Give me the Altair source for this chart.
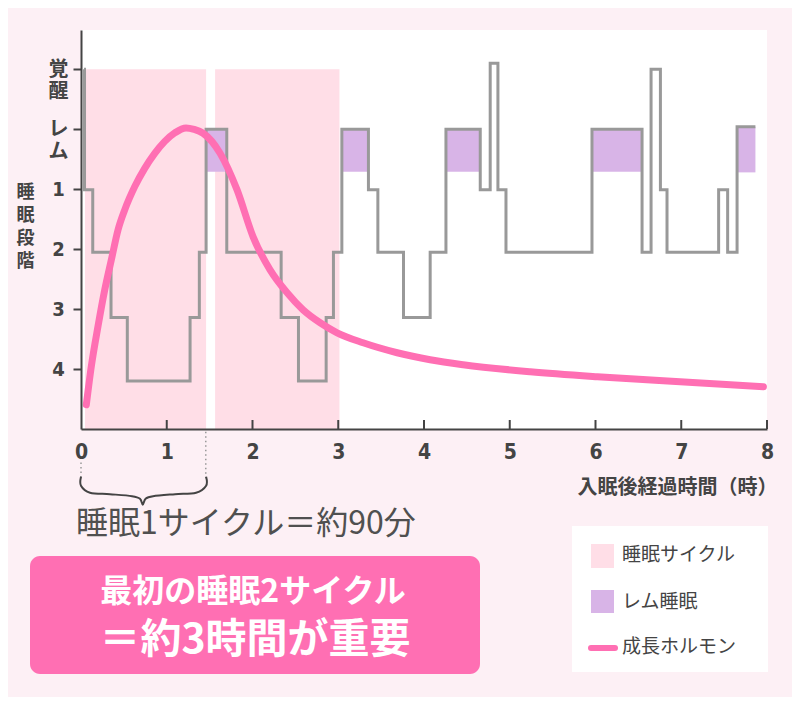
import altair as alt
import pandas as pd

# ---------------- data ----------------
x_ticks = [0, 1, 2, 3, 4, 5, 6, 7, 8]
y_tick_values = [0, 1, 2, 3, 4, 5]
y_tick_labels = ["覚醒", "レム", "1", "2", "3", "4"]

# sleep cycles (hours)
cycle_start = [0.047, 1.564]
cycle_end = [1.459, 3.014]
cycle_top = [0.0, 0.0]
cycle_bottom = [6.0, 6.0]

# REM sleep blocks
rem_start = [1.467, 3.042, 4.256, 5.959, 7.651]
rem_end = [1.700, 3.352, 4.656, 6.543, 7.865]
rem_top = [1.0, 1.0, 1.0, 1.0, 0.96]
rem_bottom = [1.71, 1.71, 1.71, 1.71, 1.72]

# hypnogram (step after)
stage_hours = [0.035, 0.041, 0.137, 0.350, 0.540, 1.272, 1.380, 1.459, 1.700,
               2.334, 2.536, 2.859, 2.944, 3.042, 3.352, 3.462, 3.761, 4.072,
               4.256, 4.656, 4.772, 4.862, 4.956, 5.959, 6.543, 6.648, 6.757,
               6.834, 7.436, 7.541, 7.651, 7.865]
stage_levels = [0.0, 2.01, 3.05, 4.14, 5.2, 4.14, 3.05, 1.0, 3.05,
                4.14, 5.2, 4.14, 3.05, 1.0, 2.01, 3.05, 4.14, 3.05,
                1.0, 2.01, -0.1, 2.01, 3.05, 1.0, 3.05, 0.0, 2.01,
                3.05, 2.01, 3.05, 0.96, 0.96]

# growth hormone curve
gh_hours = [0.062, 0.120, 0.198, 0.277, 0.354, 0.432, 0.510, 0.627, 0.743,
            0.860, 0.977, 1.093, 1.225, 1.319, 1.424, 1.622, 1.820, 2.007,
            2.205, 2.404, 2.590, 2.789, 2.987, 3.290, 3.687, 4.072, 4.457,
            5.239, 6.021, 6.791, 7.573, 7.958]
gh_levels = [5.595, 4.957, 4.290, 3.678, 3.178, 2.678, 2.345, 1.957, 1.653,
             1.403, 1.203, 1.062, 0.978, 1.003, 1.067, 1.400, 2.012, 2.795,
             3.345, 3.728, 4.012, 4.228, 4.395, 4.562, 4.728, 4.845, 4.928,
             5.045, 5.128, 5.195, 5.262, 5.295]

# annotation: one cycle = 90 min (dotted guides + brace)
guide_x = [0.0, 1.455]
guide_y = [6.56, 6.045]
guide_y2 = [6.80, 6.845]
brace_x = [0.0, 0.0, 0.105, 0.338, 0.595, 0.688, 0.720, 0.753, 0.840, 1.097, 1.342, 1.459, 1.459]
brace_y = [6.795, 6.945, 7.062, 7.087, 7.12, 7.162, 7.262, 7.162, 7.12, 7.087, 7.062, 6.945, 6.795]

tick_hours = [1, 2, 3, 4, 5, 6, 7, 8]

legend_labels = ["睡眠サイクル", "レム睡眠", "成長ホルモン"]
note_text = "睡眠1サイクル＝約90分"
box_line1 = "最初の睡眠2サイクル"
box_line2 = "＝約3時間が重要"
x_title = "入眠後経過時間（時）"
y_title = "睡眠段階"

# ---------------- styling ----------------
PINK_CYCLE = "#FFDEE7"
PURPLE = "#D8B4E7"
GREY = "#999999"
HOT = "#FF6FB3"
TXT = "#444444"
BG = "#FDF0F5"
NUM_FONT = "Liberation Sans Narrow, DejaVu Sans Condensed, Roboto, Noto Sans CJK JP"
JP_FONT = "Noto Sans CJK JP"

W, H = 686, 399

def lab_expr():
    parts = []
    for v, lab in zip(y_tick_values, y_tick_labels):
        if len(lab) > 1:
            arr = "[" + ",".join("'" + c + "'" for c in lab) + "]"
        else:
            arr = "'" + lab + "'"
        parts.append((v, arr))
    expr = "''"
    for v, arr in reversed(parts):
        expr = f"datum.value == {v} ? {arr} : ({expr})"
    return expr

xs = alt.Scale(domain=[0, 8], nice=False, zero=False)
ys = alt.Scale(domain=[-0.655, 6], reverse=True, nice=False, zero=False)

x_axis = alt.Axis(values=x_ticks, format="d", ticks=False, tickSize=0, grid=False,
                  domainColor=TXT, domainWidth=2, labelFont=NUM_FONT,
                  labelFontSize=21, labelFontWeight="bold", labelColor=TXT,
                  labelPadding=12, labelBaseline="top", labelFlush=False,
                  title=x_title, titleFont=JP_FONT, titleFontSize=20,
                  titleFontWeight="bold", titleColor=TXT, titleAngle=0,
                  titleX=W + 10, titleY=58, titleAlign="right", titleBaseline="middle",
                  zindex=1)
y_axis = alt.Axis(values=y_tick_values, labelExpr=lab_expr(), grid=False,
                  domainColor=TXT, domainWidth=2, tickColor=TXT, tickWidth=2,
                  tickSize=8, labelFont=NUM_FONT, labelFontSize=20,
                  labelFontWeight="bold", labelColor=TXT, labelAlign="center",
                  labelBaseline="middle", labelPadding=15, labelLineHeight=22,
                  labelFlush=False,
                  title=list(y_title), titleFont=JP_FONT, titleFontSize=18,
                  titleFontWeight="bold", titleColor=TXT, titleAngle=0,
                  titleX=-56, titleY=153, titleAlign="center", titleBaseline="top",
                  titleLineHeight=23, zindex=1)

cycles_df = pd.DataFrame({"s": cycle_start, "e": cycle_end, "t": cycle_top, "b": cycle_bottom})
rem_df = pd.DataFrame({"s": rem_start, "e": rem_end, "t": rem_top, "b": rem_bottom})
stage_df = pd.DataFrame({"h": stage_hours, "lv": stage_levels})
gh_df = pd.DataFrame({"h": gh_hours, "lv": gh_levels})
guide_df = pd.DataFrame({"x": guide_x, "y": guide_y, "y2": guide_y2})
brace_df = pd.DataFrame({"x": brace_x, "y": brace_y, "i": list(range(len(brace_x)))})
tick_df = pd.DataFrame({"x": tick_hours, "y": [6.0] * len(tick_hours), "y2": [5.85] * len(tick_hours)})

cycles = alt.Chart(cycles_df).mark_rect(color=PINK_CYCLE).encode(
    x=alt.X("s:Q", scale=xs, axis=x_axis), x2="e:Q",
    y=alt.Y("t:Q", scale=ys, axis=y_axis), y2="b:Q")

rem = alt.Chart(rem_df).mark_rect(color=PURPLE).encode(
    x=alt.X("s:Q", scale=xs), x2="e:Q", y=alt.Y("t:Q", scale=ys), y2="b:Q")

stages = alt.Chart(stage_df).mark_line(interpolate="step-after", color=GREY,
                                       strokeWidth=3, strokeJoin="miter").encode(
    x=alt.X("h:Q", scale=xs), y=alt.Y("lv:Q", scale=ys))

gh = alt.Chart(gh_df).mark_line(interpolate="monotone", color=HOT, strokeWidth=7,
                                strokeCap="round").encode(
    x=alt.X("h:Q", scale=xs), y=alt.Y("lv:Q", scale=ys))

xticks = alt.Chart(tick_df).mark_rule(color=TXT, strokeWidth=2).encode(
    x=alt.X("x:Q", scale=xs), y=alt.Y("y:Q", scale=ys), y2="y2:Q")

guides = alt.Chart(guide_df).mark_rule(color=GREY, strokeWidth=1.5,
                                       strokeDash=[1.5, 3]).encode(
    x=alt.X("x:Q", scale=xs), y=alt.Y("y:Q", scale=ys), y2="y2:Q")

brace = alt.Chart(brace_df).mark_line(interpolate="cardinal", color="#444444",
                                      strokeWidth=2).encode(
    x=alt.X("x:Q", scale=xs), y=alt.Y("y:Q", scale=ys), order="i:Q")

def text_at(txt, x, y, size, color=TXT, weight="normal", align="left", font=JP_FONT):
    return alt.Chart(pd.DataFrame({"t": [txt]})).mark_text(
        align=align, baseline="middle", fontSize=size, fontWeight=weight,
        color=color, font=font).encode(text="t:N", x=alt.value(x), y=alt.value(y))

def box_at(x, x2, y, y2, color, radius=0):
    return alt.Chart(pd.DataFrame({"k": [0]})).mark_rect(
        color=color, cornerRadius=radius).encode(
        x=alt.value(x), x2=alt.value(x2), y=alt.value(y), y2=alt.value(y2))

note = text_at(note_text, -5, 494, 32, color="#505050")

pink_box = box_at(-51, 399, 526, 644, HOT, radius=10)
box_t1 = text_at(box_line1, 172, 562, 32, color="white", weight="bold", align="center")
box_t2 = text_at(box_line2, 174, 611, 41, color="white", weight="bold", align="center")

leg_bg = box_at(491, 687, 496, 642, "white")
leg_sw1 = box_at(510, 533, 514, 538, PINK_CYCLE)
leg_sw2 = box_at(510, 533, 560, 583, PURPLE)
leg_line = alt.Chart(pd.DataFrame({"k": [0]})).mark_rule(
    color=HOT, strokeWidth=6, strokeCap="round").encode(
    x=alt.value(510), x2=alt.value(534), y=alt.value(618))
leg_t1 = text_at(legend_labels[0], 541, 525, 19)
leg_t2 = text_at(legend_labels[1], 541, 572, 19)
leg_t3 = text_at(legend_labels[2], 541, 617, 19)

chart = alt.layer(
    cycles, rem, stages, gh, xticks, guides, brace, note,
    pink_box, box_t1, box_t2, leg_bg, leg_sw1, leg_sw2, leg_line,
    leg_t1, leg_t2, leg_t3
).properties(
    width=W, height=H,
    autosize=alt.AutoSizeParams(type="none"),
    padding={"left": 73, "top": 22, "right": 25, "bottom": 268},
    background=BG,
).configure_view(fill="white", stroke=None)

chart.save("out.html", embed_options={"renderer": "svg", "actions": False})
